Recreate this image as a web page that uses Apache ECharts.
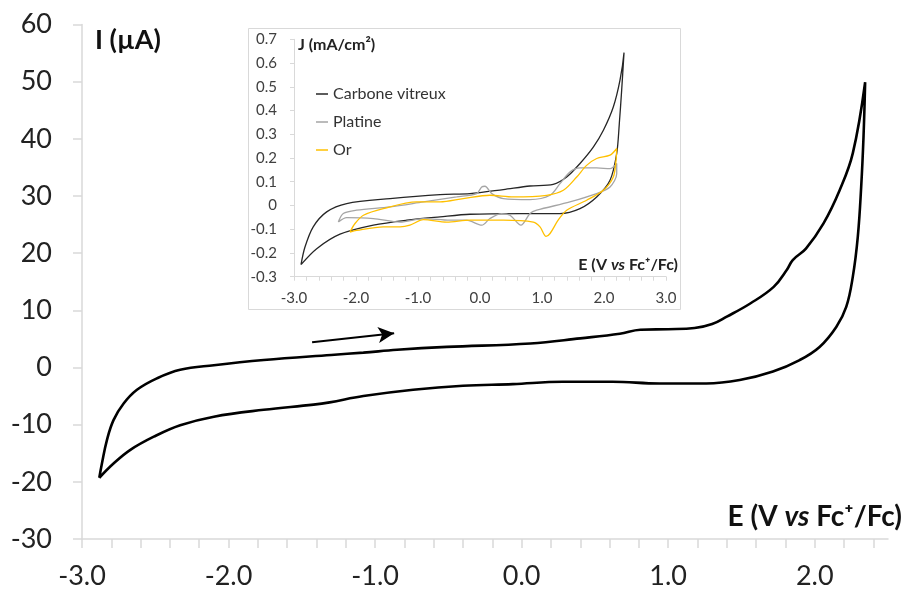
<!DOCTYPE html>
<html>
<head>
<meta charset="utf-8">
<script src="https://cdn.jsdelivr.net/npm/echarts@6/dist/echarts.min.js"></script>
<style>html,body{margin:0;padding:0;background:#fff}#c{width:905px;height:592px}</style>
</head>
<body>
<div id="c"></div>
<script>
// ---- Main CV (glassy carbon), I in µA vs E (V vs Fc+/Fc) ----
const mainE = [-2.882,-2.864,-2.83,-2.785,-2.716,-2.625,-2.489,-2.33,-2.10,-1.76,-1.30,-1.08,-0.85,-0.51,0.06,0.40,0.67,0.81,1.00,1.18,1.30,1.40,1.56,1.72,1.81,1.85,1.94,2.06,2.17,2.26,2.344,
  2.333,2.317,2.294,2.26,2.215,2.147,2.033,1.897,1.715,1.488,1.26,0.94,0.62,0.28,-0.06,-0.40,-0.74,-1.08,-1.31,-1.42,-1.76,-2.10,-2.33,-2.51,-2.67,-2.785,-2.882];
const mainI = [-19.3,-16.8,-12.7,-9.2,-6.3,-3.9,-1.9,-0.4,0.4,1.3,2.2,2.6,3.1,3.6,4.2,5.1,5.9,6.6,6.7,6.9,7.6,8.9,11.2,14.1,17.1,18.8,20.8,25.2,31.0,37.5,49.9,
  40.4,31.6,22.9,15.9,10.6,7.1,3.6,1.3,-0.7,-2.2,-2.8,-2.8,-2.5,-2.5,-2.9,-3.2,-3.9,-5.0,-6.1,-6.5,-7.4,-8.6,-10.1,-12.1,-14.4,-16.8,-19.3];
const arrowFrom = [-1.43, 4.4];
const arrowTo = [-0.87, 6.0];

// ---- Inset: J (mA/cm²) for three electrodes ----
const seriesNames = ['Carbone vitreux', 'Platine', 'Or'];
const carbE = [-2.887,-2.823,-2.69,-2.473,-2.15,-1.45,-0.645,-0.161,0.376,0.806,1.18,1.398,1.613,1.83,1.99,2.15,2.258,2.323,
  2.285,2.247,2.205,2.097,1.882,1.613,1.29,0.645,-0.161,-0.645,-1.18,-1.72,-2.258,-2.634,-2.887];
const carbJ = [-0.249,-0.175,-0.09,-0.027,0.008,0.029,0.046,0.050,0.067,0.082,0.089,0.12,0.177,0.247,0.317,0.415,0.528,0.644,
  0.486,0.345,0.219,0.106,0.036,-0.013,-0.034,-0.034,-0.037,-0.048,-0.062,-0.083,-0.121,-0.182,-0.249];
const ptE = [-2.285,-2.205,-1.99,-1.45,-0.914,-0.376,-0.053,0.027,0.08,0.19,0.376,0.806,1.13,1.29,1.45,1.613,1.882,2.097,2.205,
  2.205,2.097,1.88,1.45,0.914,0.806,0.66,0.484,0.35,0.16,0.03,-0.215,-0.484,-0.914,-1.29,-1.72,-2.15,-2.285];
const ptJ = [-0.07,-0.034,-0.02,-0.006,0.015,0.036,0.05,0.078,0.081,0.05,0.029,0.025,0.043,0.092,0.141,0.158,0.158,0.155,0.177,
  0.134,0.078,0.05,0.015,-0.02,-0.034,-0.083,-0.041,-0.034,-0.055,-0.083,-0.062,-0.062,-0.055,-0.07,-0.055,-0.051,-0.07];
const auE = [-2.097,-2.016,-1.88,-1.56,-1.02,-0.645,-0.27,0.16,0.537,1.075,1.344,1.56,1.72,1.882,2.097,2.205,
  2.194,2.15,1.99,1.72,1.398,1.26,1.13,1.065,0.968,0.86,0.376,-0.16,-0.537,-0.914,-1.13,-1.29,-1.56,-1.99,-2.097];
const auJ = [-0.112,-0.076,-0.041,-0.013,0.015,0.015,0.029,0.043,0.036,0.043,0.064,0.12,0.169,0.198,0.212,0.24,
  0.19,0.12,0.064,0.022,-0.02,-0.062,-0.118,-0.13,-0.09,-0.07,-0.062,-0.062,-0.07,-0.06,-0.083,-0.09,-0.09,-0.105,-0.112];

// ---- Tick labels ----
const mainXLabels = [-3, -2, -1, 0, 1, 2];
const mainXTicks = [-3,-2.8,-2.6,-2.4,-2.2,-2,-1.8,-1.6,-1.4,-1.2,-1,-0.8,-0.6,-0.4,-0.2,0,0.2,0.4,0.6,0.8,1,1.2,1.4,1.6,1.8,2,2.2,2.4];
const insetXLabels = [-3, -2, -1, 0, 1, 2, 3];
const insetXTicks = [-3,-2.8,-2.6,-2.4,-2.2,-2,-1.8,-1.6,-1.4,-1.2,-1,-0.8,-0.6,-0.4,-0.2,0,0.2,0.4,0.6,0.8,1,1.2,1.4,1.6,1.8,2,2.2,2.4,2.6,2.8,3];

const zip = (a, b) => a.map((v, i) => [v, b[i]]);
const FONT = 'Lato';
const AX = '#d9d9d9';

const chart = echarts.init(document.getElementById('c'), null, {renderer: 'canvas'});
chart.setOption({
  animation: false,
  backgroundColor: '#fff',
  textStyle: {fontFamily: FONT},
  graphic: [{
    type: 'rect', z: -1,
    shape: {x: 248.5, y: 28.5, width: 432, height: 281},
    style: {fill: 'rgba(0,0,0,0)', stroke: AX, lineWidth: 1}
  }],
  grid: [
    {left: 82, top: 24.5, width: 807, height: 514.5},
    {left: 294, top: 39.3, width: 372, height: 237.4}
  ],
  legend: {
    data: seriesNames, orient: 'vertical', left: 316, top: 85, padding: 0,
    icon: 'rect', itemWidth: 12, itemHeight: 1.5, itemGap: 10, itemStyle: {borderWidth: 0},
    textStyle: {fontSize: 16, color: '#333', fontFamily: FONT, lineHeight: 18}
  },
  xAxis: [{
    type: 'value', gridIndex: 0, min: -3, max: 2.5,
    axisLine: {onZero: false, lineStyle: {color: AX, width: 1.5}},
    axisTick: {show: true, length: 9, customValues: mainXTicks, lineStyle: {color: AX, width: 1.5}},
    axisLabel: {customValues: mainXLabels, formatter: v => Number(v).toFixed(1), fontSize: 27, color: '#222', margin: 24, fontFamily: FONT},
    splitLine: {show: false},
    name: '{n|E (V }{i|vs}{n| Fc⁺/Fc)}', nameLocation: 'end', nameGap: 14,
    nameTextStyle: {align: 'right', verticalAlign: 'bottom', padding: [0, 0, 8, 0],
      rich: {n: {fontSize: 28, fontWeight: 'bold', color: '#111', fontFamily: FONT},
             i: {fontSize: 28, fontWeight: 'bold', fontStyle: 'italic', color: '#111', fontFamily: FONT}}}
  }, {
    type: 'value', gridIndex: 1, min: -3, max: 3,
    axisLine: {onZero: false, lineStyle: {color: AX, width: 1}},
    axisTick: {show: true, length: 4, customValues: insetXTicks, lineStyle: {color: AX}},
    axisLabel: {customValues: insetXLabels, formatter: v => Number(v).toFixed(1), fontSize: 15, color: '#404040', margin: 14, fontFamily: FONT},
    splitLine: {show: false},
    name: '{n|E (V }{i|vs}{n| Fc⁺/Fc)}', nameLocation: 'end', nameGap: 12,
    nameTextStyle: {align: 'right', verticalAlign: 'bottom', padding: [0, 0, 4, 0],
      rich: {n: {fontSize: 16, fontWeight: 'bold', color: '#222', fontFamily: FONT},
             i: {fontSize: 16, fontWeight: 'bold', fontStyle: 'italic', color: '#222', fontFamily: FONT}}}
  }],
  yAxis: [{
    type: 'value', gridIndex: 0, min: -30, max: 60, interval: 10,
    axisLine: {show: true, onZero: false, lineStyle: {color: AX, width: 1.5}},
    axisTick: {show: true, length: 9, lineStyle: {color: AX, width: 1.5}},
    axisLabel: {fontSize: 27, color: '#222', margin: 30, fontFamily: FONT},
    splitLine: {show: false},
    name: 'I (µA)', nameLocation: 'end', nameGap: -15.5,
    nameTextStyle: {align: 'left', verticalAlign: 'middle', padding: [0, 0, 0, 13], fontSize: 27, fontWeight: 'bold', color: '#111', fontFamily: FONT}
  }, {
    type: 'value', gridIndex: 1, min: -0.3, max: 0.7, interval: 0.1,
    axisLine: {show: true, onZero: false, lineStyle: {color: AX, width: 1}},
    axisTick: {show: true, length: 4, lineStyle: {color: AX}},
    axisLabel: {fontSize: 15, color: '#404040', margin: 17, fontFamily: FONT},
    splitLine: {show: false},
    name: 'J (mA/cm²)', nameLocation: 'end', nameGap: -6,
    nameTextStyle: {align: 'left', verticalAlign: 'middle', padding: [0, 0, 0, 4], fontSize: 16, fontWeight: 'bold', color: '#222', fontFamily: FONT}
  }],
  series: [{
    name: 'main', type: 'line', xAxisIndex: 0, yAxisIndex: 0,
    data: zip(mainE, mainI), showSymbol: false, symbol: 'none', smooth: 0.4,
    lineStyle: {color: '#000', width: 2.6}, silent: true,
    markLine: {
      silent: true, symbol: ['none', 'arrow'], symbolSize: [12, 16],
      label: {show: false},
      lineStyle: {color: '#000', width: 2, type: 'solid'},
      data: [[{coord: arrowFrom}, {coord: arrowTo}]]
    }
  }, {
    name: seriesNames[0], type: 'line', xAxisIndex: 1, yAxisIndex: 1,
    data: zip(carbE, carbJ), showSymbol: false, symbol: 'none', smooth: 0.3,
    itemStyle: {color: '#262626'}, lineStyle: {color: '#262626', width: 1.3}
  }, {
    name: seriesNames[1], type: 'line', xAxisIndex: 1, yAxisIndex: 1,
    data: zip(ptE, ptJ), showSymbol: false, symbol: 'none', smooth: 0.3,
    itemStyle: {color: '#a5a5a5'}, lineStyle: {color: '#a5a5a5', width: 1.3}
  }, {
    name: seriesNames[2], type: 'line', xAxisIndex: 1, yAxisIndex: 1,
    data: zip(auE, auJ), showSymbol: false, symbol: 'none', smooth: 0.3,
    itemStyle: {color: '#ffc000'}, lineStyle: {color: '#ffc000', width: 1.3}
  }]
});
</script>
</body>
</html>
